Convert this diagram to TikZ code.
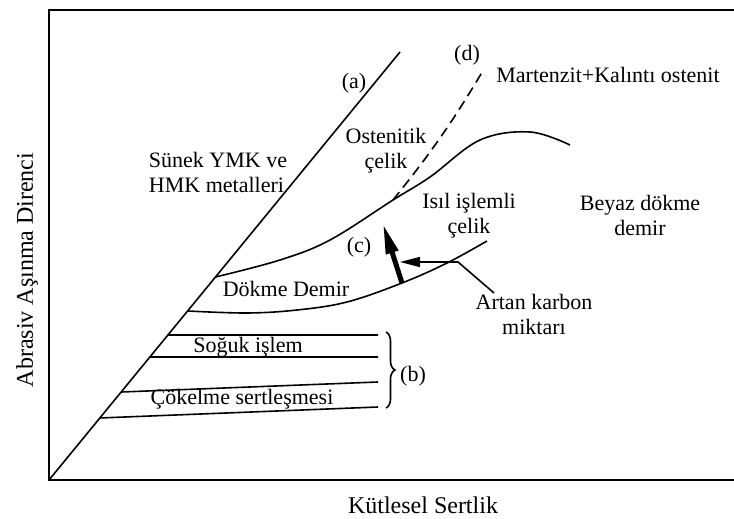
\documentclass[tikz,border=0pt]{standalone}
\usepackage{fontspec}
\setmainfont{Liberation Serif}
\usetikzlibrary{arrows.meta}
\usetikzlibrary{calc}
\usetikzlibrary{decorations.pathreplacing}

\begin{document}
\begin{tikzpicture}[x=0.5pt, y=-0.5pt,
    lbl/.style={font=\fontsize{11}{12.5}\selectfont, align=center, inner sep=0pt},
    axlbl/.style={font=\fontsize{12}{14}\selectfont, inner sep=0pt},
    curve/.style={line width=0.8pt}]
    \useasboundingbox (0, 0) rectangle (734, 519);
    \coordinate (O) at (49, 480);
    \coordinate (A) at (400, 52);
    \draw[line width=1pt] (734, 10) -- (49, 10) -- (O) -- (734, 480);
    \draw[curve] (O) -- (A);
    \coordinate (U0) at ($(O)!0.4743!(A)$);
    \coordinate (L0) at ($(O)!0.3949!(A)$);
    \coordinate (S1) at ($(O)!0.3388!(A)$);
    \coordinate (S2) at ($(O)!0.2874!(A)$);
    \coordinate (C1) at ($(O)!0.2056!(A)$);
    \coordinate (C2) at ($(O)!0.1449!(A)$);
    \coordinate (D0) at (393, 200);
    \coordinate (D1) at (484, 69);
    \coordinate (TA) at (402, 283);
    \coordinate (TB) at (383, 224);
    \coordinate (K0) at (400, 262);
    \coordinate (K1) at (458, 262);
    \coordinate (K2) at (494, 293);
    \draw[curve] plot[smooth, tension=0.6] coordinates {(U0) (280, 260) (330, 240) (D0) (430, 177) (480, 140) (530, 132) (570, 145)};
    \draw[curve] plot[smooth, tension=0.6] coordinates {(L0) (247, 313) (297, 310) (347, 302) (TA) (447, 263) (487, 241)};
    \draw[curve, dash pattern=on 5pt off 3pt] (D0) to[bend right=4] (D1);
    \draw[line width=2.5pt, -{Triangle[length=15pt, width=6pt]}] (TA) -- (TB);
    \draw[curve, {Triangle[length=10pt, width=5pt]}-] (K0) -- (K1) -- (K2);
    \draw[curve] (S1) -- (378, 335);
    \draw[curve] (S2) -- (378, 357);
    \draw[curve] (C1) -- (378, 382);
    \draw[curve] (C2) -- (378, 407);
    \draw[curve, decorate, decoration={brace, amplitude=4.5pt}] (386, 332) -- (386, 408);
    \node[lbl] at (354, 83) (a) {(a)};
    \node[lbl] at (467, 55) (d) {(d)};
    \node[lbl] at (359, 247) (c) {(c)};
    \node[lbl] at (413, 376) (b) {(b)};
    \node[lbl] at (608, 75) (mart) {Martenzit+Kalıntı ostenit};
    \node[lbl, align=left] at (218, 172) (sunek) {Sünek YMK ve\\HMK metalleri};
    \node[lbl] at (386, 151) (osten) {Ostenitik\\çelik};
    \node[lbl] at (469, 216) (isil) {Isıl işlemli\\çelik};
    \node[lbl] at (640, 215) (beyaz) {Beyaz dökme\\demir};
    \node[lbl] at (286, 289) (dokme) {Dökme Demir};
    \node[lbl] at (534, 314) (karbon) {Artan karbon\\miktarı};
    \node[lbl] at (248, 347) (soguk) {Soğuk işlem};
    \node[lbl] at (242, 399) (cokel) {Çökelme sertleşmesi};
    \node[axlbl, rotate=90] at (27, 270) (ylab) {Abrasiv Aşınma Direnci};
    \node[axlbl] at (423, 505) (xlab) {Kütlesel Sertlik};
\end{tikzpicture}
\end{document}
